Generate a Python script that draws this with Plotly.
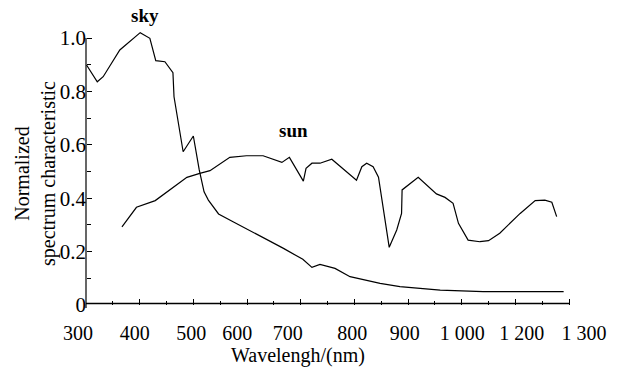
import plotly.graph_objects as go

# x values are in the chart's linear axis units (300 at left end, 1200 at right end of axis line)
sky_x = [301, 321, 332, 363, 401, 419, 430, 447, 462, 464, 481, 500, 511, 520, 528, 547, 574,
         637, 668, 704, 721, 736, 764, 792, 848, 885, 960, 1040, 1134, 1190]
sky_y = [0.899, 0.836, 0.855, 0.955, 1.020, 0.999, 0.915, 0.911, 0.870, 0.780, 0.574, 0.633,
         0.506, 0.424, 0.393, 0.341, 0.312, 0.246, 0.212, 0.171, 0.141, 0.152, 0.137, 0.106,
         0.081, 0.069, 0.056, 0.050, 0.050, 0.050]

sun_x = [367, 394, 429, 457, 488, 512, 531, 568, 599, 630, 665, 679, 705, 710, 721, 736, 758,
         804, 814, 823, 835, 845, 865, 879, 888, 889, 919, 953, 969, 984, 994, 1012, 1034,
         1050, 1071, 1109, 1137, 1155, 1168, 1177]
sun_y = [0.293, 0.366, 0.391, 0.431, 0.478, 0.493, 0.503, 0.553, 0.559, 0.559, 0.534, 0.553,
         0.464, 0.512, 0.531, 0.531, 0.546, 0.467, 0.518, 0.531, 0.518, 0.479, 0.216, 0.281,
         0.343, 0.431, 0.478, 0.416, 0.403, 0.381, 0.306, 0.243, 0.237, 0.241, 0.269, 0.343,
         0.391, 0.393, 0.385, 0.331]

x_major_ticks = [400, 500, 600, 700, 800, 900, 1000, 1100, 1200]
x_minor_ticks = [350, 450, 550, 650, 750, 850, 950, 1050, 1150]
x_label_pos = [285, 391, 496, 582, 676, 796, 894, 1001, 1112, 1228]
x_label_text = ["300", "400", "500", "600", "700", "800", "900", "1 000", "1 200", "1 300"]

y_major_ticks = [0, 0.2, 0.4, 0.6, 0.8, 1.0]
y_major_text = ["0", "0.2", "0.4", "0.6", "0.8", "1.0"]
y_minor_ticks = [0.1, 0.3, 0.5, 0.7, 0.9]

FONT = "Liberation Serif"
line = dict(color="black", width=1.2)

W, H = 621, 372
L, R, T, B = 75, 31, 20, 67
PW, PH = W - L - R, H - T - B
XR = [279.5, 279.5 + PW * 900 / 483]
YR = [0, PH / 267]
y_axis_pos = (300 - XR[0]) / (XR[1] - XR[0])


def px(xp):
    return (xp - L) / PW


def py(yp):
    return (H - B - yp) / PH


fig = go.Figure()
fig.add_trace(go.Scatter(x=sky_x, y=sky_y, mode="lines", line=line, name="sky", showlegend=False))
fig.add_trace(go.Scatter(x=sun_x, y=sun_y, mode="lines", line=line, name="sun", showlegend=False))
# invisible trace to create the label axis
fig.add_trace(go.Scatter(x=[x_label_pos[1]], y=[0.5], xaxis="x2", mode="markers",
                         marker=dict(opacity=0), showlegend=False, hoverinfo="skip"))

fig.update_layout(
    width=W, height=H,
    margin=dict(l=L, r=R, t=T, b=B),
    paper_bgcolor="white", plot_bgcolor="white",
    font=dict(family=FONT, color="black", size=20),
    xaxis=dict(range=XR, showgrid=False, zeroline=False, showline=False, automargin=False,
               tickmode="array", tickvals=x_major_ticks, ticks="inside", ticklen=6,
               tickwidth=1.2, tickcolor="#000000", showticklabels=False,
               minor=dict(tickmode="array", tickvals=x_minor_ticks, ticks="inside",
                          ticklen=4, tickwidth=1.2, tickcolor="#000000", showgrid=False)),
    xaxis2=dict(range=XR, overlaying="x", anchor="y", side="bottom", automargin=False,
                showgrid=False, zeroline=False, showline=False,
                tickmode="array", tickvals=x_label_pos, ticktext=x_label_text,
                ticks="", ticklabelstandoff=14, tickfont=dict(family=FONT, size=20)),
    yaxis=dict(range=YR, showgrid=False, zeroline=False, showline=False, automargin=False,
               anchor="free", position=y_axis_pos,
               tickmode="array", tickvals=y_major_ticks, ticktext=y_major_text,
               ticks="inside", ticklen=5, tickwidth=1.2, tickcolor="#000000",
               tickfont=dict(family=FONT, size=21),
               minor=dict(tickmode="array", tickvals=y_minor_ticks, ticks="inside",
                          ticklen=4, tickwidth=1.2, tickcolor="#000000", showgrid=False)),
    shapes=[
        dict(type="line", xref="x", yref="paper", x0=300, x1=1200, y0=py(303.5), y1=py(303.5),
             layer="above", line=dict(color="#000000", width=1.4)),
        dict(type="line", xref="x", yref="paper", x0=300, x1=300, y0=py(308), y1=py(38),
             layer="above", line=dict(color="#000000", width=1.2)),
    ],
    annotations=[
        dict(x=px(145), y=py(16), xref="paper", yref="paper", text="<b>sky</b>",
             showarrow=False, xanchor="center", yanchor="middle",
             font=dict(family=FONT, size=19)),
        dict(x=px(293), y=py(130), xref="paper", yref="paper", text="<b>sun</b>",
             showarrow=False, xanchor="center", yanchor="middle",
             font=dict(family=FONT, size=19)),
        dict(x=px(298), y=py(355), xref="paper", yref="paper", text="Wavelengh/(nm)",
             showarrow=False, xanchor="center", yanchor="middle",
             font=dict(family=FONT, size=20)),
        dict(x=px(35), y=py(174), xref="paper", yref="paper",
             text="Normalized<br>spectrum characteristic", textangle=-90,
             showarrow=False, xanchor="center", yanchor="middle",
             font=dict(family=FONT, size=20)),
    ],
)

fig.write_html("out.html", config={"displayModeBar": False},
               post_script="document.body.style.margin='0';")
